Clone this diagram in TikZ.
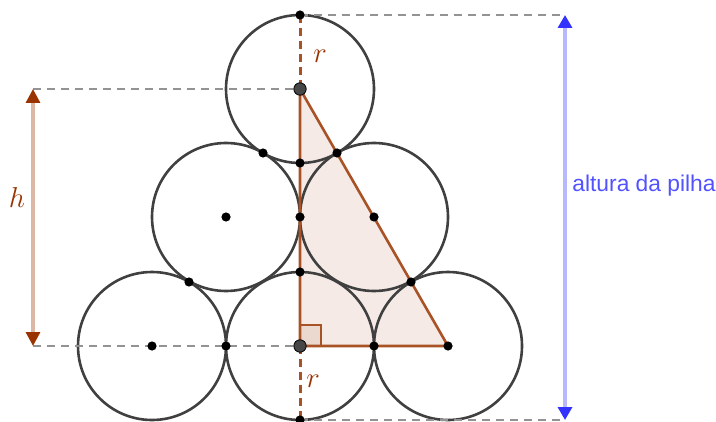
\documentclass[tikz,border=0pt]{standalone}
\usepackage{fontspec}
\setmainfont{Liberation Sans}
\usetikzlibrary{arrows.meta}
\definecolor{gbrown}{RGB}{153,51,0}
\definecolor{gblue}{RGB}{51,51,255}
\definecolor{circ}{RGB}{64,64,64}
\tikzset{
  ball/.style={draw=circ, line width=1.3pt},
  guide/.style={draw=gray!85, line width=1pt, dash pattern=on 4pt off 3pt},
  rdash/.style={draw=gbrown!85, line width=1.5pt, dash pattern=on 4pt off 2.5pt},
  pt/.style={circle, fill=black, inner sep=0pt, minimum size=4.6pt},
  bigpt/.style={circle, fill=black!72, draw=black, line width=0.4pt, inner sep=0pt, minimum size=6.2pt},
  lab/.style={text=gbrown, font=\fontsize{15}{18}\selectfont},
}
\begin{document}
\begin{tikzpicture}[x=0.5pt,y=-0.5pt]
\useasboundingbox (0,0) rectangle (716,422);
% centres
\coordinate (A) at (300,89);
\coordinate (B) at (226,217);
\coordinate (C) at (374,217);
\coordinate (D) at (152,346);
\coordinate (E) at (300,346);
\coordinate (F) at (448,346);
\coordinate (T) at (300,15);
\coordinate (U) at (300,420);
\coordinate (hL) at (33,89);
\coordinate (hB) at (33,346);
\coordinate (aT) at (565,15);
\coordinate (aB) at (565,420);
% triangle fill
\fill[gbrown, opacity=0.1] (A) -- (F) -- (E) -- cycle;
% circles
\foreach \c in {A,B,C,D,E,F} \draw[ball] (\c) circle[radius=37pt];
% guides
\draw[guide] (T) -- (aT);
\draw[guide] (hL) -- (A);
\draw[guide] (hB) -- (E);
\draw[guide] (U) -- (aB);
% radius dashes
\draw[rdash] (T) -- (A);
\draw[rdash] (E) -- (U);
% right angle
\filldraw[draw=gbrown!85, line width=0.9pt, fill=gbrown, fill opacity=0.1] (300,346) rectangle (321,325);
% triangle edges
\draw[gbrown!85, line width=1.3pt, line join=round] (A) -- (F) -- (E) -- cycle;
% arrows
\draw[draw=gbrown!35, line width=1.6pt, {Triangle[color=gbrown, length=7pt, width=7pt]}-{Triangle[color=gbrown, length=7pt, width=7pt]}] (hL) -- (hB);
\draw[draw=gblue!35, line width=1.8pt, {Triangle[color=gblue, length=6.5pt, width=7pt]}-{Triangle[color=gblue, length=6.5pt, width=7pt]}] (aT) -- (aB);
% labels
\node[lab] (lh) at (17,197) {$h$};
\node[lab] (lr1) at (320,56) {$r$};
\node[lab] (lr2) at (313,381) {$r$};
\node[text=gblue!85, font=\fontsize{11.4}{13}\selectfont, anchor=west, inner sep=0pt] (alt) at (572,186) {altura da pilha};
% points
\foreach \p in {T,B,C,D,F,U} \node[pt] at (\p) {};
\foreach \x/\y in {263/153,337/153,300/163,300/217,300/272,189/282,411/282,226/346,374/346} \node[pt] at (\x,\y) {};
\node[bigpt] (pA) at (A) {};
\node[bigpt] (pE) at (E) {};
\end{tikzpicture}
\end{document}
